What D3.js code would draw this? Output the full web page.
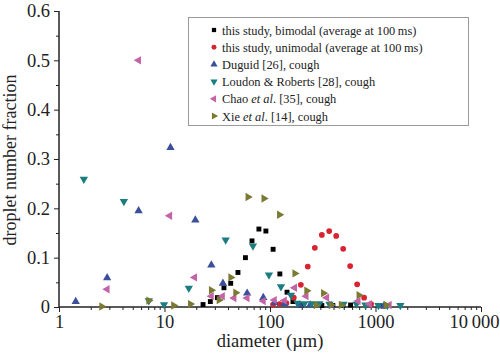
<!DOCTYPE html>
<html><head><meta charset="utf-8">
<script src="https://cdn.jsdelivr.net/npm/d3@7"></script>
<style>
html,body{margin:0;padding:0;background:#fff;}
svg{display:block;font-family:"Liberation Serif","Times New Roman",serif;}
</style></head>
<body><svg id="c" width="500" height="356"></svg>
<script>
// ---- data (diameter in µm, number fraction) ----
const bimodalD = [23.2,27.2,31.7,36.6,42.4,49.7,58.5,67.5,78.5,91.4,107,124,145,165,198,310,394,490,580,1190];
const bimodalV = [0.005,0.011,0.019,0.039,0.048,0.070,0.100,0.134,0.158,0.154,0.117,0.067,0.030,0.011,0.004,0.003,0.003,0.003,0.004,0.002];
const unimodalD = [107,123,143,168,196,228,266,310,364,424,494,575,670,780,908];
const unimodalV = [0.005,0.006,0.008,0.019,0.045,0.082,0.120,0.146,0.154,0.144,0.118,0.083,0.046,0.019,0.006];
const duguidD = [1.44,2.86,5.68,11.4,19.6,27.8,35.8,60.7,86.4,111,137,190,240,380,1200];
const duguidV = [0.011,0.059,0.195,0.323,0.176,0.085,0.048,0.028,0.019,0.009,0.007,0.004,0.004,0.003,0.002];
const loudonD = [1.72,4.12,7.1,9.9,17.0,38,68.9,97.7,127,158,182,212,248,294,366,497,660,802,1065,1297,1720];
const loudonV = [0.259,0.214,0.013,0.005,0.038,0.136,0.124,0.065,0.041,0.024,0.008,0.007,0.007,0.007,0.006,0.006,0.006,0.004,0.003,0.003,0.003];
const chaoD = [2.86,5.68,11.2,19.3,27.8,35.4,45.6,60.7,86.4,110,137,171,220,345,684,875,1350];
const chaoV = [0.036,0.50,0.185,0.060,0.022,0.022,0.018,0.018,0.012,0.014,0.013,0.039,0.022,0.019,0.012,0.006,0.004];
const xieD = [2.54,7.1,12.2,17.6,27.8,32.9,42.5,47.3,61.8,87.5,123,172,223,274,321,380,473,697,1259];
const xieV = [0.001,0.013,0.003,0.006,0.034,0.014,0.060,0.029,0.223,0.220,0.187,0.068,0.033,0.004,0.028,0.004,0.004,0.024,0.004];

const seriesNames = [
  ["this study, bimodal (average at 100\u2009ms)"],
  ["this study, unimodal (average at 100\u2009ms)"],
  ["Duguid [26], cough"],
  ["Loudon & Roberts [28], cough"],
  ["Chao ", "et al", ". [35], cough"],
  ["Xie ", "et al", ". [14], cough"]
];
const xTickValues = [1,10,100,1000,10000];
const xTickLabels = ["1","10","100","1000","10\u2009000"];
const yTickValues = [0,0.1,0.2,0.3,0.4,0.5,0.6];
const yTickLabels = ["0","0.1","0.2","0.3","0.4","0.5","0.6"];

// ---- build ----
const series = [
  {d:bimodalD, v:bimodalV, shape:d3.symbolSquare, rot:0, size:24, color:"#000000"},
  {d:unimodalD, v:unimodalV, shape:d3.symbolCircle, rot:0, size:26, color:"#d9232e"},
  {d:duguidD, v:duguidV, shape:d3.symbolTriangle, rot:0, size:30, color:"#3b4f9a"},
  {d:loudonD, v:loudonV, shape:d3.symbolTriangle, rot:180, size:30, color:"#1c7d80"},
  {d:chaoD, v:chaoV, shape:d3.symbolTriangle, rot:-90, size:30, color:"#c264a6"},
  {d:xieD, v:xieV, shape:d3.symbolTriangle, rot:90, size:30, color:"#7b7a34"}
];

const FONT = "'Liberation Serif', 'Times New Roman', serif";
const svg = d3.select("#c");
const x = d3.scaleLog().domain([1,10000]).range([59,481]);
const y = d3.scaleLinear().domain([0,0.6]).range([307,11]);

// minor ticks
const xMinor = [];
for (let e=0;e<4;e++) for (let k=2;k<10;k++) xMinor.push(k*Math.pow(10,e));
const yMinor = [0.05,0.15,0.25,0.35,0.45,0.55];

const gx = svg.append("g").attr("transform","translate(0,307)");
gx.call(d3.axisBottom(x).tickValues(xMinor).tickSize(3).tickFormat(""));
gx.append("g").call(d3.axisBottom(x).tickValues(xTickValues).tickSize(5)
   .tickFormat((d,i)=>xTickLabels[i]).tickPadding(3));
gx.selectAll("text").attr("font-size",18.5).attr("fill","#222").attr("font-family",FONT);
gx.selectAll(".tick text").filter(d=>d===10000).attr("dx",-7);

const gy = svg.append("g").attr("transform","translate(59,0)");
gy.call(d3.axisLeft(y).tickValues(yMinor).tickSize(3).tickFormat(""));
gy.append("g").call(d3.axisLeft(y).tickValues(yTickValues).tickSize(5)
   .tickFormat((d,i)=>yTickLabels[i]).tickPadding(4));
gy.selectAll("text").attr("font-size",18.5).attr("fill","#222").attr("font-family",FONT);
svg.selectAll(".domain").attr("stroke","#222");
svg.selectAll(".tick line").attr("stroke","#222");
gx.selectAll(".domain").attr("d","M59,0H481");
gy.selectAll(".domain").attr("d","M0,307V11");

// axis titles
svg.append("text").attr("x",270).attr("y",347).attr("text-anchor","middle").attr("font-family",FONT)
  .attr("font-size",18.5).attr("fill","#222").text("diameter (\u00b5m)");
svg.append("text").attr("transform","translate(16,160) rotate(-90)").attr("text-anchor","middle")
  .attr("font-family",FONT).attr("font-size",18).attr("fill","#222").text("droplet number fraction");

// points
series.forEach(s=>{
  const sym = d3.symbol().type(s.shape).size(s.size);
  svg.append("g").selectAll("path").data(s.d.map((d,i)=>[d,s.v[i]])).join("path")
    .attr("d",sym)
    .attr("transform",p=>`translate(${x(p[0])},${y(p[1])}) rotate(${s.rot})`)
    .attr("fill",s.color);
});

// legend
const lg = svg.append("g");
lg.append("rect").attr("x",188.5).attr("y",17.5).attr("width",280).attr("height",108)
  .attr("fill","#fff").attr("stroke","#9a9a9a").attr("stroke-width",1);
series.forEach((s,i)=>{
  const yy = 30 + i*17.2;
  lg.append("path").attr("d",d3.symbol().type(s.shape).size(s.size*0.75)())
    .attr("transform",`translate(214,${yy}) rotate(${s.rot})`).attr("fill",s.color);
  const t = lg.append("text").attr("x",222).attr("y",yy+4.5).attr("font-family",FONT)
    .attr("font-size",12.4).attr("fill","#222");
  seriesNames[i].forEach((part,j)=>{
    const ts = t.append("tspan").text(part);
    if (j===1) ts.attr("font-style","italic");
  });
});
</script></body></html>
